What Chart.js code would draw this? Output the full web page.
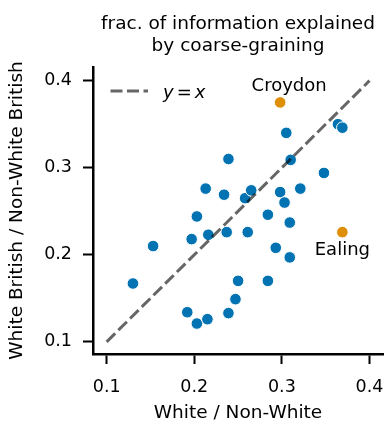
<!DOCTYPE html>
<html>
<head>
  <script src="https://cdn.jsdelivr.net/npm/chart.js"></script>
  <style>
    body { margin: 0; background: #fff; }
  </style>
</head>
<body>
  <canvas id="scatterChart" width="385" height="421"></canvas>

  <script>
    // fraction of information explained, per borough
    const boroughX = [0.130, 0.153, 0.197, 0.192, 0.203, 0.203, 0.213, 0.216, 0.215, 0.234,
                      0.239, 0.237, 0.239, 0.247, 0.250, 0.258, 0.265, 0.261, 0.284, 0.284,
                      0.293, 0.298, 0.303, 0.305, 0.310, 0.309, 0.309, 0.321, 0.348, 0.364, 0.369];
    const boroughY = [0.167, 0.210, 0.218, 0.134, 0.244, 0.121, 0.276, 0.223, 0.126, 0.269,
                      0.310, 0.226, 0.133, 0.149, 0.170, 0.265, 0.274, 0.226, 0.170, 0.246,
                      0.208, 0.272, 0.260, 0.340, 0.309, 0.237, 0.197, 0.276, 0.294, 0.350, 0.346];

    const highlightNames = ['Croydon', 'Ealing'];
    const highlightX = [0.298, 0.369];
    const highlightY = [0.375, 0.226];

    const tickValues = [0.1, 0.2, 0.3, 0.4];
    const diagonalEnds = [0.1, 0.4];

    const FONT = "'DejaVu Sans', sans-serif";
    const BLUE = '#0173B2';
    const ORANGE = '#DE8F05';
    const DASH = [12, 4.5];

    // label offsets (px) from each highlighted point to the text baseline
    const labelOffsets = [{ dx: 9, dy: -11.5 }, { dx: 0, dy: 23 }];

    const textPlugin = {
      id: 'textPlugin',
      afterDraw(chart) {
        const ctx = chart.ctx;
        const area = chart.chartArea;
        const xs = chart.scales.x, ys = chart.scales.y;
        ctx.save();
        ctx.fillStyle = '#000';

        // title
        ctx.font = '18.5px ' + FONT;
        ctx.textAlign = 'center';
        ctx.textBaseline = 'alphabetic';
        const cx = (area.left + area.right) / 2;
        ctx.fillText('frac. of information explained', cx, 29);
        ctx.fillText('by coarse-graining', cx, 51);

        // point names
        ctx.font = '18px ' + FONT;
        highlightNames.forEach((name, i) => {
          const px = xs.getPixelForValue(highlightX[i]) + labelOffsets[i].dx;
          const py = ys.getPixelForValue(highlightY[i]) + labelOffsets[i].dy;
          ctx.fillText(name, px, py);
        });

        // legend: dashed sample + y = x
        const lx = area.left + 17.5, ly = area.top + 24;
        ctx.strokeStyle = 'rgba(0,0,0,0.6)';
        ctx.lineWidth = 3;
        ctx.setLineDash(DASH);
        ctx.beginPath();
        ctx.moveTo(lx, ly);
        ctx.lineTo(lx + 37.5, ly);
        ctx.stroke();
        ctx.setLineDash([]);

        ctx.textAlign = 'left';
        let tx = lx + 52.5;
        const ty = ly + 6.7;
        ctx.font = 'italic 18px ' + FONT;
        ctx.fillText('y', tx, ty);
        tx += ctx.measureText('y').width + 3;
        ctx.font = '18px ' + FONT;
        ctx.fillText('=', tx, ty);
        tx += ctx.measureText('=').width + 3;
        ctx.font = 'italic 18px ' + FONT;
        ctx.fillText('x', tx, ty);
        ctx.restore();
      }
    };

    function axisOptions(min, max, titleText) {
      return {
        type: 'linear',
        min: min,
        max: max,
        afterBuildTicks: (scale) => {
          scale.ticks = tickValues.map(v => ({ value: v }));
        },
        ticks: {
          callback: (v) => v.toFixed(1),
          color: '#000',
          font: { family: FONT, size: 17.5 },
          padding: 11,
        },
        grid: {
          drawOnChartArea: false,
          drawTicks: true,
          tickLength: 10,
          tickWidth: 2,
          tickColor: '#000',
        },
        border: { display: true, color: '#000', width: 2.5 },
        title: {
          display: true,
          text: titleText,
          color: '#000',
          font: { family: FONT, size: 18.5, lineHeight: 1.2 },
          padding: 0,
        },
      };
    }

    const xAxis = axisOptions(0.0844, 0.4154, 'White / Non-White');
    xAxis.position = 'bottom';
    xAxis.afterFit = (scale) => {
      scale.height = 67;
      scale.paddingLeft = 0;
      scale.paddingRight = 0;
    };
    xAxis.title.font.lineHeight = 0.8;
    xAxis.ticks.padding = 13;

    const yAxis = axisOptions(0.086, 0.4157, 'White British / Non-White British');
    yAxis.position = 'left';
    yAxis.afterFit = (scale) => {
      scale.width = 93;
      scale.paddingTop = 0;
      scale.paddingBottom = 0;
    };
    yAxis.title.padding = { top: 6, bottom: 0 };

    const ctx = document.getElementById('scatterChart').getContext('2d');
    const scatterChart = new Chart(ctx, {
      type: 'scatter',
      data: {
        datasets: [
          {
            type: 'line',
            label: 'y = x',
            data: diagonalEnds.map(v => ({ x: v, y: v })),
            borderColor: 'rgba(0,0,0,0.6)',
            borderWidth: 3,
            borderDash: DASH,
            pointRadius: 0,
            fill: false,
            order: 0,
          },
          {
            label: 'boroughs',
            data: boroughX.map((x, i) => ({ x: x, y: boroughY[i] })),
            backgroundColor: BLUE,
            borderColor: '#fff',
            borderWidth: 1,
            pointRadius: 5.8,
            order: 2,
          },
          {
            label: 'highlighted',
            data: highlightX.map((x, i) => ({ x: x, y: highlightY[i] })),
            backgroundColor: ORANGE,
            borderColor: '#fff',
            borderWidth: 1,
            pointRadius: 5.8,
            order: 1,
          },
        ],
      },
      options: {
        responsive: false,
        animation: false,
        layout: { autoPadding: false, padding: { top: 67, right: 2, left: 0, bottom: 0 } },
        scales: { x: xAxis, y: yAxis },
        plugins: {
          legend: { display: false },
          tooltip: { enabled: false },
        },
      },
      plugins: [textPlugin],
    });
  </script>
</body>
</html>
